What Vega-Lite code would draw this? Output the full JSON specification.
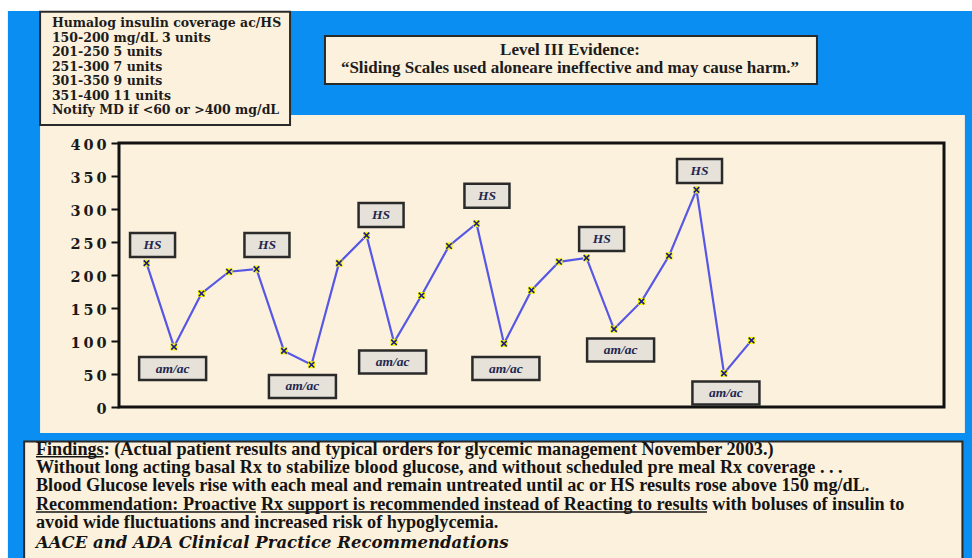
{
  "$schema": "https://vega.github.io/schema/vega-lite/v6.json",
  "width": 825,
  "height": 264,
  "autosize": {"type": "none"},
  "padding": {"left": 119, "top": 143, "right": 28, "bottom": 151},
  "background": "#ffffff",
  "config": {
    "view": {"stroke": null}
  },
  "datasets": {
    "one": [{"k": 1}],
    "glucose": [
      {"reading": 1, "mgdl": 218}, {"reading": 2, "mgdl": 91}, {"reading": 3, "mgdl": 172},
      {"reading": 4, "mgdl": 205}, {"reading": 5, "mgdl": 209}, {"reading": 6, "mgdl": 85},
      {"reading": 7, "mgdl": 64}, {"reading": 8, "mgdl": 218}, {"reading": 9, "mgdl": 260},
      {"reading": 10, "mgdl": 98}, {"reading": 11, "mgdl": 169}, {"reading": 12, "mgdl": 244},
      {"reading": 13, "mgdl": 278}, {"reading": 14, "mgdl": 96}, {"reading": 15, "mgdl": 177},
      {"reading": 16, "mgdl": 220}, {"reading": 17, "mgdl": 226}, {"reading": 18, "mgdl": 118},
      {"reading": 19, "mgdl": 160}, {"reading": 20, "mgdl": 229}, {"reading": 21, "mgdl": 329},
      {"reading": 22, "mgdl": 51}, {"reading": 23, "mgdl": 101}
    ],
    "notes": [
      {"reading": 1.22, "mgdl": 245.5, "label": "HS"},
      {"reading": 5.38, "mgdl": 245.5, "label": "HS"},
      {"reading": 9.53, "mgdl": 291, "label": "HS"},
      {"reading": 13.38, "mgdl": 320, "label": "HS"},
      {"reading": 17.55, "mgdl": 254.5, "label": "HS"},
      {"reading": 21.11, "mgdl": 357.5, "label": "HS"},
      {"reading": 1.95, "mgdl": 58.3, "label": "am/ac"},
      {"reading": 6.67, "mgdl": 31.1, "label": "am/ac"},
      {"reading": 9.95, "mgdl": 68.2, "label": "am/ac"},
      {"reading": 14.07, "mgdl": 58.3, "label": "am/ac"},
      {"reading": 18.24, "mgdl": 86.4, "label": "am/ac"},
      {"reading": 22.07, "mgdl": 21.2, "label": "am/ac"}
    ]
  },
  "layer": [
    {
      "data": {"name": "one"},
      "mark": {"type": "rect", "fill": "#0a8ef2"},
      "encoding": {
        "x": {"datum": -4.04, "type": "quantitative", "scale": {"domain": [0, 30], "nice": false, "zero": false}, "axis": null},
        "x2": {"datum": 32},
        "y": {
          "datum": 600, "type": "quantitative", "scale": {"domain": [0, 400], "nice": false},
          "axis": {
            "values": [0, 50, 100, 150, 200, 250, 300, 350, 400], "tickCount": 9, "title": null, "zindex": 3,
            "labelExpr": "join(split(datum.label, ''), '\u2009')", "labelOverlap": false,
            "labelFont": "DejaVu Serif", "labelFontWeight": "bold", "labelFontSize": 14.5, "labelColor": "#1a1a1a",
            "labelPadding": 5, "labelOffset": 2, "tickColor": "#111111", "tickSize": 8, "tickWidth": 2,
            "domain": false, "grid": false
          }
        },
        "y2": {"datum": -250}
      }
    },
    {
      "data": {"name": "one"},
      "mark": {"type": "rect", "fill": "#fcf1dc"},
      "encoding": {
        "x": {"datum": -2.87, "type": "quantitative", "scale": {"domain": [0, 30], "nice": false, "zero": false}, "axis": null},
        "x2": {"datum": 30.76},
        "y": {"datum": 442.4, "type": "quantitative", "scale": {"domain": [0, 400], "nice": false}},
        "y2": {"datum": -39.4}
      }
    },
    {
      "data": {"name": "one"},
      "mark": {"type": "rect", "fill": "#fcf1dc", "stroke": "#2a2a2a", "strokeWidth": 2},
      "encoding": {
        "x": {"datum": -2.87, "type": "quantitative", "scale": {"domain": [0, 30], "nice": false, "zero": false}, "axis": null},
        "x2": {"datum": 6.22},
        "y": {"datum": 599, "type": "quantitative", "scale": {"domain": [0, 400], "nice": false}},
        "y2": {"datum": 427.3}
      }
    },
    {
      "data": {"name": "one"},
      "mark": {"type": "rect", "fill": "#fcf1dc", "stroke": "#2a2a2a", "strokeWidth": 2},
      "encoding": {
        "x": {"datum": 7.49, "type": "quantitative", "scale": {"domain": [0, 30], "nice": false, "zero": false}, "axis": null},
        "x2": {"datum": 25.38},
        "y": {"datum": 562.1, "type": "quantitative", "scale": {"domain": [0, 400], "nice": false}},
        "y2": {"datum": 489.4}
      }
    },
    {
      "data": {"name": "one"},
      "mark": {"type": "rect", "fill": "#fcf1dc", "stroke": "#2a2a2a", "strokeWidth": 2},
      "encoding": {
        "x": {"datum": -3.45, "type": "quantitative", "scale": {"domain": [0, 30], "nice": false, "zero": false}, "axis": null},
        "x2": {"datum": 30.67},
        "y": {"datum": -52.3, "type": "quantitative", "scale": {"domain": [0, 400], "nice": false}},
        "y2": {"datum": -240}
      }
    },
    {
      "data": {"name": "one"},
      "mark": {
        "type": "text", "align": "left", "baseline": "alphabetic", "font": "DejaVu Serif", "fontWeight": "bold",
        "fontSize": 12.5, "lineHeight": 14.5, "color": "#1c1c1c",
        "text": ["Humalog  insulin  coverage ac/HS", "150-200 mg/dL 3 units", "201-250 5 units", "251-300 7 units", "301-350 9 units", "351-400 11 units", "Notify MD if <60 or >400 mg/dL"]
      },
      "encoding": {
        "x": {"datum": -2.44, "type": "quantitative", "scale": {"domain": [0, 30], "nice": false, "zero": false}, "axis": null},
        "y": {"datum": 575.5, "type": "quantitative", "scale": {"domain": [0, 400], "nice": false}}
      }
    },
    {
      "data": {"name": "one"},
      "mark": {
        "type": "text", "align": "center", "baseline": "alphabetic", "font": "Liberation Serif", "fontWeight": "bold",
        "fontSize": 17, "lineHeight": 18, "color": "#1c1c1c",
        "text": ["Level III Evidence:", "“Sliding Scales used aloneare ineffective and may cause harm.”"]
      },
      "encoding": {
        "x": {"datum": 16.4, "type": "quantitative", "scale": {"domain": [0, 30], "nice": false, "zero": false}, "axis": null},
        "y": {"datum": 533, "type": "quantitative", "scale": {"domain": [0, 400], "nice": false}}
      }
    },
    {
      "data": {"name": "one"},
      "mark": {
        "type": "text", "align": "left", "baseline": "alphabetic", "font": "Liberation Serif", "fontWeight": "bold",
        "fontSize": 18.2, "lineHeight": 18.4, "color": "#141414",
        "text": ["Findings: (Actual patient results and typical orders  for glycemic management November 2003.)", "Without long acting basal Rx to stabilize blood glucose, and without scheduled pre meal Rx coverage . . .", "Blood Glucose levels rise with each meal and remain untreated until ac or HS results rose above 150 mg/dL.", "Recommendation: Proactive  Rx support is recommended instead of Reacting to results with boluses of insulin to", "avoid wide fluctuations and increased risk of hypoglycemia."]
      },
      "encoding": {
        "x": {"datum": -3.02, "type": "quantitative", "scale": {"domain": [0, 30], "nice": false, "zero": false}, "axis": null},
        "y": {"datum": -71.97, "type": "quantitative", "scale": {"domain": [0, 400], "nice": false}}
      }
    },
    {
      "data": {"name": "one"},
      "mark": {
        "type": "text", "align": "left", "baseline": "alphabetic", "font": "DejaVu Serif", "fontWeight": "bold",
        "fontStyle": "italic", "fontSize": 16.5, "color": "#141414",
        "text": "AACE and ADA Clinical Practice Recommendations"
      },
      "encoding": {
        "x": {"datum": -3.02, "type": "quantitative", "scale": {"domain": [0, 30], "nice": false, "zero": false}, "axis": null},
        "y": {"datum": -213.6, "type": "quantitative", "scale": {"domain": [0, 400], "nice": false}}
      }
    },
    {
      "data": {"name": "one"},
      "mark": {"type": "rule", "stroke": "#141414", "strokeWidth": 1.5},
      "encoding": {
        "x": {"datum": -3.02, "type": "quantitative", "scale": {"domain": [0, 30], "nice": false, "zero": false}, "axis": null},
        "x2": {"datum": -0.55},
        "y": {"datum": -75.5, "type": "quantitative", "scale": {"domain": [0, 400], "nice": false}}
      }
    },
    {
      "data": {"name": "one"},
      "mark": {"type": "rule", "stroke": "#141414", "strokeWidth": 1.5},
      "encoding": {
        "x": {"datum": -3.02, "type": "quantitative", "scale": {"domain": [0, 30], "nice": false, "zero": false}, "axis": null},
        "x2": {"datum": 4.98},
        "y": {"datum": -159.1, "type": "quantitative", "scale": {"domain": [0, 400], "nice": false}}
      }
    },
    {
      "data": {"name": "one"},
      "mark": {"type": "rule", "stroke": "#141414", "strokeWidth": 1.5},
      "encoding": {
        "x": {"datum": 5.16, "type": "quantitative", "scale": {"domain": [0, 30], "nice": false, "zero": false}, "axis": null},
        "x2": {"datum": 21.38},
        "y": {"datum": -159.1, "type": "quantitative", "scale": {"domain": [0, 400], "nice": false}}
      }
    },
    {
      "data": {"name": "one"},
      "mark": {"type": "rect", "fill": "transparent", "stroke": "#111111", "strokeWidth": 3},
      "encoding": {
        "x": {"datum": 0, "type": "quantitative", "scale": {"domain": [0, 30], "nice": false, "zero": false}, "axis": null},
        "x2": {"datum": 30},
        "y": {"datum": 0, "type": "quantitative", "scale": {"domain": [0, 400], "nice": false}},
        "y2": {"datum": 400}
      }
    },
    {
      "data": {"name": "glucose"},
      "mark": {"type": "line", "color": "#5757e6", "strokeWidth": 2.2},
      "encoding": {
        "x": {"field": "reading", "type": "quantitative", "scale": {"domain": [0, 30], "nice": false, "zero": false}, "axis": null},
        "y": {
          "field": "mgdl", "type": "quantitative", "scale": {"domain": [0, 400], "nice": false},
          "axis": {
            "values": [0, 50, 100, 150, 200, 250, 300, 350, 400], "tickCount": 9, "title": null, "zindex": 3,
            "labelExpr": "join(split(datum.label, ''), '\u2009')", "labelOverlap": false,
            "labelFont": "DejaVu Serif", "labelFontWeight": "bold", "labelFontSize": 14.5, "labelColor": "#1a1a1a",
            "labelPadding": 5, "labelOffset": 2, "tickColor": "#111111", "tickSize": 8, "tickWidth": 2,
            "domain": false, "grid": false
          }
        }
      }
    },
    {
      "data": {"name": "glucose"},
      "mark": {"type": "point", "shape": "square", "filled": true, "fill": "#f4f400", "size": 49, "opacity": 1, "strokeWidth": 0},
      "encoding": {
        "x": {"field": "reading", "type": "quantitative", "scale": {"domain": [0, 30], "nice": false, "zero": false}, "axis": null},
        "y": {"field": "mgdl", "type": "quantitative", "scale": {"domain": [0, 400], "nice": false}}
      }
    },
    {
      "data": {"name": "glucose"},
      "mark": {"type": "point", "shape": "M-1,-1L1,1M-1,1L1,-1", "filled": false, "stroke": "#1c1c8a", "size": 30, "opacity": 1, "strokeWidth": 1.6},
      "encoding": {
        "x": {"field": "reading", "type": "quantitative", "scale": {"domain": [0, 30], "nice": false, "zero": false}, "axis": null},
        "y": {"field": "mgdl", "type": "quantitative", "scale": {"domain": [0, 400], "nice": false}}
      }
    },
    {
      "data": {"name": "notes"},
      "transform": [{"filter": "datum.label === 'HS'"}],
      "mark": {"type": "point", "shape": "M-1,-0.533H1V0.533H-1Z", "filled": true, "fill": "#e6e2d9", "stroke": "#2a2a2a", "strokeWidth": 2.5, "size": 2025, "opacity": 1},
      "encoding": {
        "x": {"field": "reading", "type": "quantitative", "scale": {"domain": [0, 30], "nice": false, "zero": false}, "axis": null},
        "y": {"field": "mgdl", "type": "quantitative", "scale": {"domain": [0, 400], "nice": false}}
      }
    },
    {
      "data": {"name": "notes"},
      "transform": [{"filter": "datum.label === 'am/ac'"}],
      "mark": {"type": "point", "shape": "M-1,-0.343H1V0.343H-1Z", "filled": true, "fill": "#e6e2d9", "stroke": "#2a2a2a", "strokeWidth": 2.5, "size": 4489, "opacity": 1},
      "encoding": {
        "x": {"field": "reading", "type": "quantitative", "scale": {"domain": [0, 30], "nice": false, "zero": false}, "axis": null},
        "y": {"field": "mgdl", "type": "quantitative", "scale": {"domain": [0, 400], "nice": false}}
      }
    },
    {
      "data": {"name": "notes"},
      "mark": {"type": "text", "align": "center", "baseline": "middle", "font": "Liberation Serif", "fontWeight": "bold", "fontStyle": "italic", "fontSize": 13.5, "color": "#23264f"},
      "encoding": {
        "x": {"field": "reading", "type": "quantitative", "scale": {"domain": [0, 30], "nice": false, "zero": false}, "axis": null},
        "y": {"field": "mgdl", "type": "quantitative", "scale": {"domain": [0, 400], "nice": false}},
        "text": {"field": "label"}
      }
    }
  ]
}
